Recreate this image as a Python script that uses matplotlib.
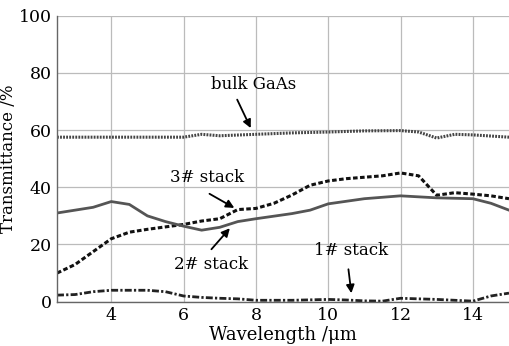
import numpy as np
import matplotlib
matplotlib.use('Agg')
import matplotlib.pyplot as plt

plt.rcParams['font.family'] = ['DejaVu Serif']

# data
wl_bulk = [2.5, 3, 4, 5, 6, 6.5, 7, 8, 9, 10, 11, 12, 12.5, 13, 13.5, 14, 15]
t_bulk = [57.5, 57.5, 57.5, 57.5, 57.5, 58.5, 58.0, 58.5, 59.0, 59.3, 59.7, 59.8, 59.3, 57.2, 58.5, 58.3, 57.5]

wl_s3 = [2.5, 3, 3.5, 4, 4.5, 5, 6, 6.5, 7, 7.5, 8, 8.5, 9, 9.5, 10, 10.5, 11, 11.5, 12, 12.5, 13, 13.5, 14, 14.5, 15]
t_s3 = [10, 13, 17.5, 22, 24.3, 25.3, 27, 28.2, 29, 32.2, 32.6, 34.4, 37.3, 40.7, 42.2, 43, 43.5, 44, 45, 44, 37.2, 38.1, 37.6, 37, 36]

wl_s2 = [2.5, 3, 3.5, 4, 4.5, 5, 5.5, 6, 6.5, 7, 7.5, 8, 9, 9.5, 10, 11, 12, 13, 14, 14.5, 15]
t_s2 = [31, 32, 33, 35, 34, 30, 28, 26.4, 25, 26, 28, 29, 30.8, 32, 34.2, 36, 37, 36.3, 36, 34.4, 32]

wl_s1 = [2.5, 3, 3.5, 4, 5, 5.5, 6, 6.5, 7, 7.5, 8, 9, 10, 10.5, 11, 11.5, 12, 13, 14, 14.5, 15]
t_s1 = [2.3, 2.5, 3.5, 4, 4, 3.5, 2, 1.5, 1.2, 1, 0.5, 0.5, 0.8, 0.6, 0.3, 0.2, 1.2, 0.8, 0.2, 2, 3]

fig = plt.figure(figsize=(5.09, 3.46), dpi=100)
ax = fig.add_axes([0.112, 0.128, 0.888, 0.827])

ax.plot(wl_bulk, t_bulk, color='#444444', lw=2.2, linestyle=(0, (0.6, 0.4)))
ax.plot(wl_s3, t_s3, color='#111111', lw=2.2, linestyle=(0, (1.5, 0.8)))
ax.plot(wl_s2, t_s2, color='#555555', lw=2.0, linestyle='-')
ax.plot(wl_s1, t_s1, color='#222222', lw=2.0, linestyle=(0, (2.5, 0.8, 0.8, 0.8)))

ax.set_xlim(2.5, 15)
ax.set_ylim(0, 100)
ax.set_xticks([4, 6, 8, 10, 12, 14])
ax.set_yticks([0, 20, 40, 60, 80, 100])
ax.grid(True, color='#bbbbbb', lw=0.9)
ax.tick_params(length=0, labelsize=12.5, pad=4)
for s in ['top', 'right']:
    ax.spines[s].set_visible(False)
for s in ['left', 'bottom']:
    ax.spines[s].set_color('#666666')
    ax.spines[s].set_linewidth(1.0)

ax.set_xlabel('Wavelength /\u03bcm', fontsize=13, labelpad=1)
ax.set_ylabel('Transmittance /%', fontsize=12, labelpad=1)

arrow = dict(arrowstyle='-|>', color='black', lw=1.3, mutation_scale=12)
ax.annotate('', xy=(7.89, 59.8), xytext=(7.45, 71.5), arrowprops=arrow)
ax.text(7.95, 76, 'bulk GaAs', fontsize=12, ha='center', va='center')
ax.annotate('', xy=(7.47, 32.3), xytext=(6.65, 38.2), arrowprops=arrow)
ax.text(6.65, 43.4, '3# stack', fontsize=12, ha='center', va='center')
ax.annotate('', xy=(7.33, 26.4), xytext=(6.72, 17.6), arrowprops=arrow)
ax.text(6.75, 13.1, '2# stack', fontsize=12, ha='center', va='center')
ax.annotate('', xy=(10.65, 2.0), xytext=(10.55, 12.3), arrowprops=arrow)
ax.text(10.62, 18, '1# stack', fontsize=12, ha='center', va='center')

fig.savefig('out.png', dpi=100)
